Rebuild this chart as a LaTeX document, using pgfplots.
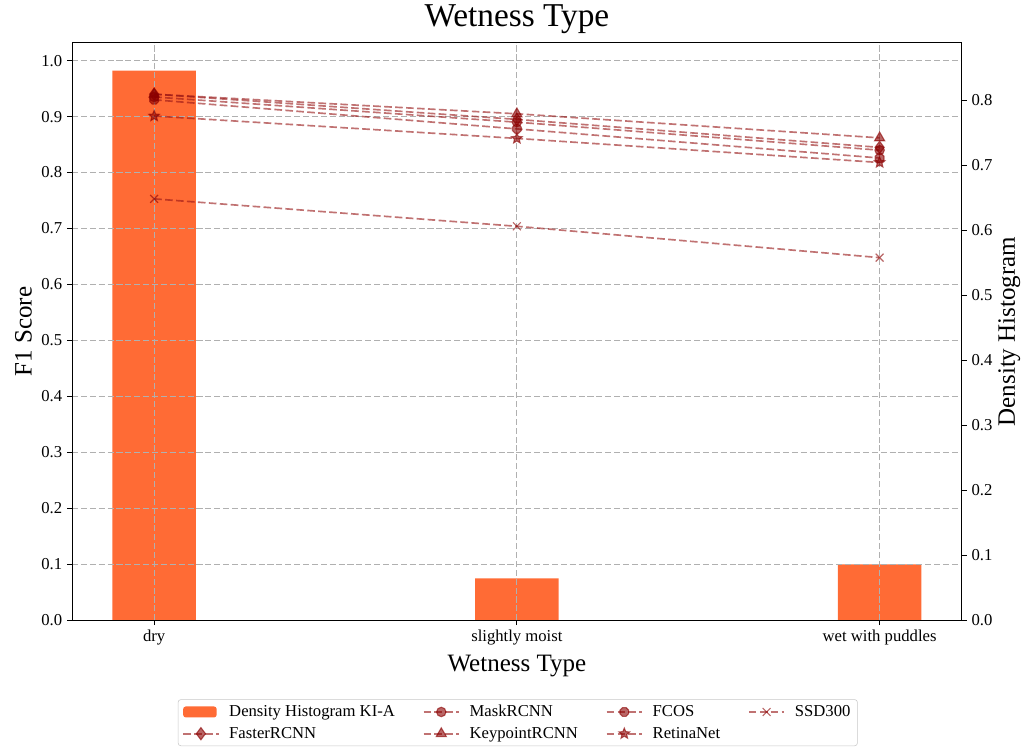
\documentclass[border=0pt]{standalone}
\usepackage{fontspec}
\setmainfont{Liberation Serif}
\usepackage{pgfplots}
\pgfplotsset{compat=1.18}
\definecolor{barc}{RGB}{255,107,53}
\definecolor{linec}{RGB}{150,20,20}
\definecolor{markc}{RGB}{139,0,0}
\definecolor{gridc}{RGB}{176,176,176}
\pgfdeclareplotmark{fstar}{%
  \pgfpathmoveto{\pgfpointpolar{90}{\pgfplotmarksize}}%
  \pgfpathlineto{\pgfpointpolar{126}{0.45\pgfplotmarksize}}%
  \pgfpathlineto{\pgfpointpolar{162}{\pgfplotmarksize}}%
  \pgfpathlineto{\pgfpointpolar{198}{0.45\pgfplotmarksize}}%
  \pgfpathlineto{\pgfpointpolar{234}{\pgfplotmarksize}}%
  \pgfpathlineto{\pgfpointpolar{270}{0.45\pgfplotmarksize}}%
  \pgfpathlineto{\pgfpointpolar{306}{\pgfplotmarksize}}%
  \pgfpathlineto{\pgfpointpolar{342}{0.45\pgfplotmarksize}}%
  \pgfpathlineto{\pgfpointpolar{18}{\pgfplotmarksize}}%
  \pgfpathlineto{\pgfpointpolar{54}{0.45\pgfplotmarksize}}%
  \pgfpathclose\pgfusepathqfillstroke}
\pgfdeclareplotmark{octa}{%
  \pgfpathmoveto{\pgfpointpolar{22.5}{\pgfplotmarksize}}%
  \pgfpathlineto{\pgfpointpolar{67.5}{\pgfplotmarksize}}%
  \pgfpathlineto{\pgfpointpolar{112.5}{\pgfplotmarksize}}%
  \pgfpathlineto{\pgfpointpolar{157.5}{\pgfplotmarksize}}%
  \pgfpathlineto{\pgfpointpolar{202.5}{\pgfplotmarksize}}%
  \pgfpathlineto{\pgfpointpolar{247.5}{\pgfplotmarksize}}%
  \pgfpathlineto{\pgfpointpolar{292.5}{\pgfplotmarksize}}%
  \pgfpathlineto{\pgfpointpolar{337.5}{\pgfplotmarksize}}%
  \pgfpathclose\pgfusepathqfillstroke}
\pgfplotsset{
  common/.style={
    scale only axis, width=640.8pt, height=416pt,
    xmin=-0.2265, xmax=2.2265,
    tick align=outside,
    major tick length=3.5pt,
    tick style={black, line width=0.6pt},
    axis line style={line width=0.6pt},
    ticklabel style={font=\fontsize{12}{14}\selectfont},
    label style={font=\fontsize{18}{21}\selectfont},
    /pgf/number format/assume math mode=true,
    /pgf/number format/fixed, /pgf/number format/fixed zerofill,
    /pgf/number format/precision=1,
  },
  ln/.style={linec, draw opacity=0.6, line width=1.2pt,
    dash pattern=on 5.5pt off 2.4pt,
    mark options={solid, fill=markc, draw=markc, draw opacity=0.6, fill opacity=0.6, line width=0.8pt},
    legend image code/.code={\draw[mark repeat=2,mark phase=2,##1] plot coordinates {(0cm,0cm) (0.45cm,0cm) (0.9cm,0cm)};}},
}
\begin{document}
\begin{tikzpicture}
\begin{axis}[common,
  ymin=0, ymax=0.889,
  ytick={0,0.1,...,0.8},
  ytick pos=right, yticklabel pos=right,
  xtick=\empty,
  ylabel={Density Histogram},
  ylabel near ticks,
  every axis y label/.append style={font=\fontsize{18}{21}\selectfont},
  ylabel style={font=\fontsize{18}{21}\selectfont, yshift=2.5pt},
]
\addplot[ybar, bar width=0.23, fill=barc, draw=none] coordinates {(0,0.846) (1,0.0646) (2,0.086)};
\end{axis}
\begin{axis}[common, name=ax,
  ymin=0, ymax=1.032,
  ytick={0,0.1,...,1.0},
  ytick pos=left,
  xtick={0,1,2}, xticklabels={dry, slightly moist, wet with puddles},
  xtick pos=bottom,
  xticklabel style={/pgf/number format/assume math mode=false},
  grid=major,
  grid style={gridc, dash pattern=on 4.4pt off 2pt, line width=0.6pt},
  ylabel={F1 Score}, xlabel={Wetness Type},
  title={Wetness Type},
  title style={font=\fontsize{24}{28}\selectfont, yshift=-3pt},
  legend columns=4,
  legend style={at={(0.501,-0.1367)}, anchor=north, font=\fontsize{12}{14}\selectfont,
    draw=gridc!70, rounded corners=2pt, column sep=5pt, row sep=2pt,
    /tikz/every even column/.append style={column sep=18pt}},
  legend cell align=left,
]
\addplot[ln, mark=diamond*, mark size=4.4pt, forget plot] coordinates {(0,0.940) (1,0.895) (2,0.845)};
\addplot[ln, mark=*, mark size=3.4pt, forget plot] coordinates {(0,0.935) (1,0.890) (2,0.840)};
\addplot[ln, mark=triangle*, mark size=4.2pt, forget plot] coordinates {(0,0.940) (1,0.905) (2,0.862)};
\addplot[ln, mark=octa, mark size=3.4pt, forget plot] coordinates {(0,0.930) (1,0.878) (2,0.826)};
\addplot[ln, mark=fstar, mark size=4pt, forget plot] coordinates {(0,0.901) (1,0.861) (2,0.818)};
\addplot[ln, mark=x, mark size=4pt, forget plot] coordinates {(0,0.753) (1,0.704) (2,0.648)};
\addlegendimage{fill=barc, draw=none, legend image code/.code={\fill[##1] (0cm,-0.14cm) rectangle (0.85cm,0.14cm);}}
\addlegendentry{Density Histogram KI-A}
\addlegendimage{ln, mark=*, mark size=3.4pt}
\addlegendentry{MaskRCNN}
\addlegendimage{ln, mark=octa, mark size=3.4pt}
\addlegendentry{FCOS}
\addlegendimage{ln, mark=x, mark size=4pt}
\addlegendentry{SSD300}
\addlegendimage{ln, mark=diamond*, mark size=4.4pt}
\addlegendentry{FasterRCNN}
\addlegendimage{ln, mark=triangle*, mark size=4.2pt}
\addlegendentry{KeypointRCNN}
\addlegendimage{ln, mark=fstar, mark size=4pt}
\addlegendentry{RetinaNet}
\end{axis}
\path (ax.south west) ++(-51.84pt,-95.76pt);
\path (ax.north east) ++(45.36pt,28.8pt);
\end{tikzpicture}
\end{document}
